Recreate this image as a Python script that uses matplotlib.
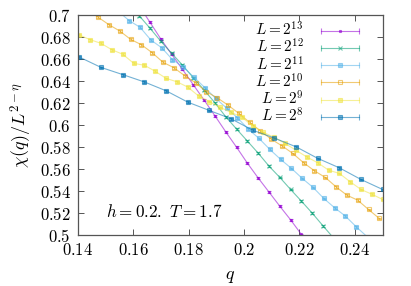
import numpy as np
import matplotlib
matplotlib.use("Agg")
import matplotlib.pyplot as plt
from matplotlib.lines import Line2D
from matplotlib.legend_handler import HandlerLine2D, HandlerTuple
from matplotlib.ticker import FuncFormatter, MultipleLocator

plt.rcParams['mathtext.fontset'] = 'cm'
plt.rcParams['font.family'] = ['DejaVu Serif']

# ---- data ----
q13 = [0.1622, 0.1661, 0.1700, 0.1739, 0.1778, 0.1817, 0.1856, 0.1895, 0.1934,
       0.1973, 0.2012, 0.2051, 0.2090, 0.2129, 0.2168, 0.2207]
y13 = [0.7084, 0.6936, 0.6784, 0.6645, 0.6508, 0.6368, 0.6229, 0.6086, 0.5940,
       0.5800, 0.5655, 0.5520, 0.5392, 0.5263, 0.5139, 0.5006]

q12 = [0.1622, 0.1661, 0.1700, 0.1739, 0.1778, 0.1817, 0.1856, 0.1895, 0.1934,
       0.1973, 0.2012, 0.2051, 0.2090, 0.2129, 0.2168, 0.2207, 0.2246, 0.2285, 0.2324]
y12 = [0.6996, 0.6882, 0.6763, 0.6654, 0.6547, 0.6432, 0.6320, 0.6204, 0.6077,
       0.5965, 0.5856, 0.5746, 0.5628, 0.5525, 0.5415, 0.5309, 0.5200, 0.5084, 0.4970]

q11 = [0.1547, 0.1586, 0.1625, 0.1664, 0.1703, 0.1742, 0.1781, 0.1820, 0.1859,
       0.1898, 0.1937, 0.1976, 0.2015, 0.2054, 0.2093, 0.2132, 0.2171, 0.2210,
       0.2249, 0.2288, 0.2327, 0.2366, 0.2405, 0.2444]
y11 = [0.7035, 0.6951, 0.6891, 0.6775, 0.6705, 0.6596, 0.6529, 0.6435, 0.6341,
       0.6244, 0.6156, 0.6068, 0.5965, 0.5880, 0.5780, 0.5689, 0.5607, 0.5516,
       0.5434, 0.5333, 0.5248, 0.5172, 0.5075, 0.4985]

q10 = [0.1435, 0.1474, 0.1513, 0.1552, 0.1591, 0.1630, 0.1669, 0.1708, 0.1747,
       0.1786, 0.1825, 0.1864, 0.1903, 0.1942, 0.1981, 0.2020, 0.2059, 0.2098,
       0.2137, 0.2176, 0.2215, 0.2254, 0.2293, 0.2332, 0.2371, 0.2410, 0.2449, 0.2488]
y10 = [0.7050, 0.6982, 0.6914, 0.6857, 0.6781, 0.6732, 0.6659, 0.6572, 0.6523,
       0.6450, 0.6386, 0.6304, 0.6250, 0.6183, 0.6108, 0.6026, 0.5949, 0.5873,
       0.5812, 0.5743, 0.5658, 0.5585, 0.5525, 0.5439, 0.5363, 0.5318, 0.5233, 0.5151]

q9 = [0.1406, 0.1445, 0.1484, 0.1523, 0.1563, 0.1602, 0.1641, 0.1680, 0.1719,
      0.1758, 0.1797, 0.1836, 0.1875, 0.1914, 0.1953, 0.1992, 0.2031, 0.2070,
      0.2109, 0.2148, 0.2188, 0.2227, 0.2266, 0.2305, 0.2344, 0.2383, 0.2422,
      0.2461, 0.2500]
y9 = [0.6821, 0.6778, 0.6745, 0.6687, 0.6645, 0.6563, 0.6545, 0.6490, 0.6426,
      0.6395, 0.6347, 0.6266, 0.6215, 0.6162, 0.6117, 0.6074, 0.5992, 0.5934,
      0.5890, 0.5834, 0.5771, 0.5710, 0.5658, 0.5591, 0.5561, 0.5485, 0.5415,
      0.5372, 0.5324]

q8 = [0.1406, 0.1484, 0.1563, 0.1641, 0.1719, 0.1797, 0.1875, 0.1953, 0.2031,
      0.2109, 0.2188, 0.2266, 0.2344, 0.2422, 0.2500]
y8 = [0.6620, 0.6526, 0.6460, 0.6393, 0.6313, 0.6210, 0.6134, 0.6059, 0.5955,
      0.5883, 0.5803, 0.5698, 0.5612, 0.5506, 0.5415]

labels = [r'$L = 2^{13}$', r'$L = 2^{12}$', r'$L = 2^{11}$',
          r'$L = 2^{10}$', r'$L = 2^{9}$', r'$L = 2^{8}$']
colors = ['#9400D3', '#009E73', '#56B4E9', '#E69F00', '#F0E442', '#0072B2']

series = [(q13, y13), (q12, y12), (q11, y11), (q10, y10), (q9, y9), (q8, y8)]
styles = [
    dict(marker='s', ms=1.6, mfc=None),
    dict(marker='x', ms=2.4, mfc=None),
    dict(marker='s', ms=2.2, mfc=None),
    dict(marker='s', ms=3.4, mfc='none'),
    dict(marker='s', ms=2.6, mfc=None),
    dict(marker='s', ms=2.8, mfc=None),
]

fig = plt.figure(figsize=(4.11, 2.86), dpi=100)
ax = fig.add_axes([0.189, 0.178, 0.742, 0.7685])

alpha = 0.55
handles = []
hmap = {}
for (qq, yy), c, lab, st in zip(series, colors, labels, styles):
    mfc = c if st['mfc'] is None else 'none'
    ax.errorbar(qq, yy, yerr=0.0008, color=c, lw=0.8, alpha=alpha,
                marker=st['marker'], ms=st['ms'], mfc=mfc, mec=c, mew=0.8,
                elinewidth=0.7, capsize=1.4, capthick=0.7, clip_on=True)
    cap = Line2D([], [], color=c, lw=0.8, alpha=alpha, marker='|', ms=4.5, mew=0.8)
    mid = Line2D([], [], color=c, lw=0, alpha=alpha, marker=st['marker'],
                 ms=st['ms'], mfc=mfc, mec=c, mew=0.8)
    hmap[cap] = HandlerLine2D(numpoints=2)
    hmap[mid] = HandlerLine2D(numpoints=1)
    handles.append((cap, mid))

ax.set_xlim(0.14, 0.25)
ax.set_ylim(0.5, 0.7)
ax.xaxis.set_major_locator(MultipleLocator(0.02))
ax.yaxis.set_major_locator(MultipleLocator(0.02))
fmt = FuncFormatter(lambda v, p: r'$%s$' % ('%g' % round(v, 4)))
ax.xaxis.set_major_formatter(fmt)
ax.yaxis.set_major_formatter(fmt)
ax.tick_params(direction='in', top=True, right=True, length=4, width=0.7,
               color='#555555', labelsize=12, pad=5)
for s in ax.spines.values():
    s.set_color('#555555')
    s.set_linewidth(0.9)

ax.set_xlabel(r'$q$', fontsize=13, labelpad=6)
ax.set_ylabel(r'$\chi(q)/L^{2-\eta}$', fontsize=13, labelpad=4)

ax.text(0.1502, 0.5202, r'$h = 0.2.\ T = 1.7$', fontsize=12.3, va='center', ha='left')

for h in handles:
    hmap[h] = HandlerTuple(ndivide=1, pad=0)
leg = ax.legend(handles, labels, handler_map=hmap, loc='upper right',
                bbox_to_anchor=(0.9387, 0.975), frameon=False, markerfirst=False,
                fontsize=11, handlelength=3.1, handletextpad=0.85,
                labelspacing=-0.06, borderpad=0, borderaxespad=0)

fig.savefig('out.png', dpi=100)
